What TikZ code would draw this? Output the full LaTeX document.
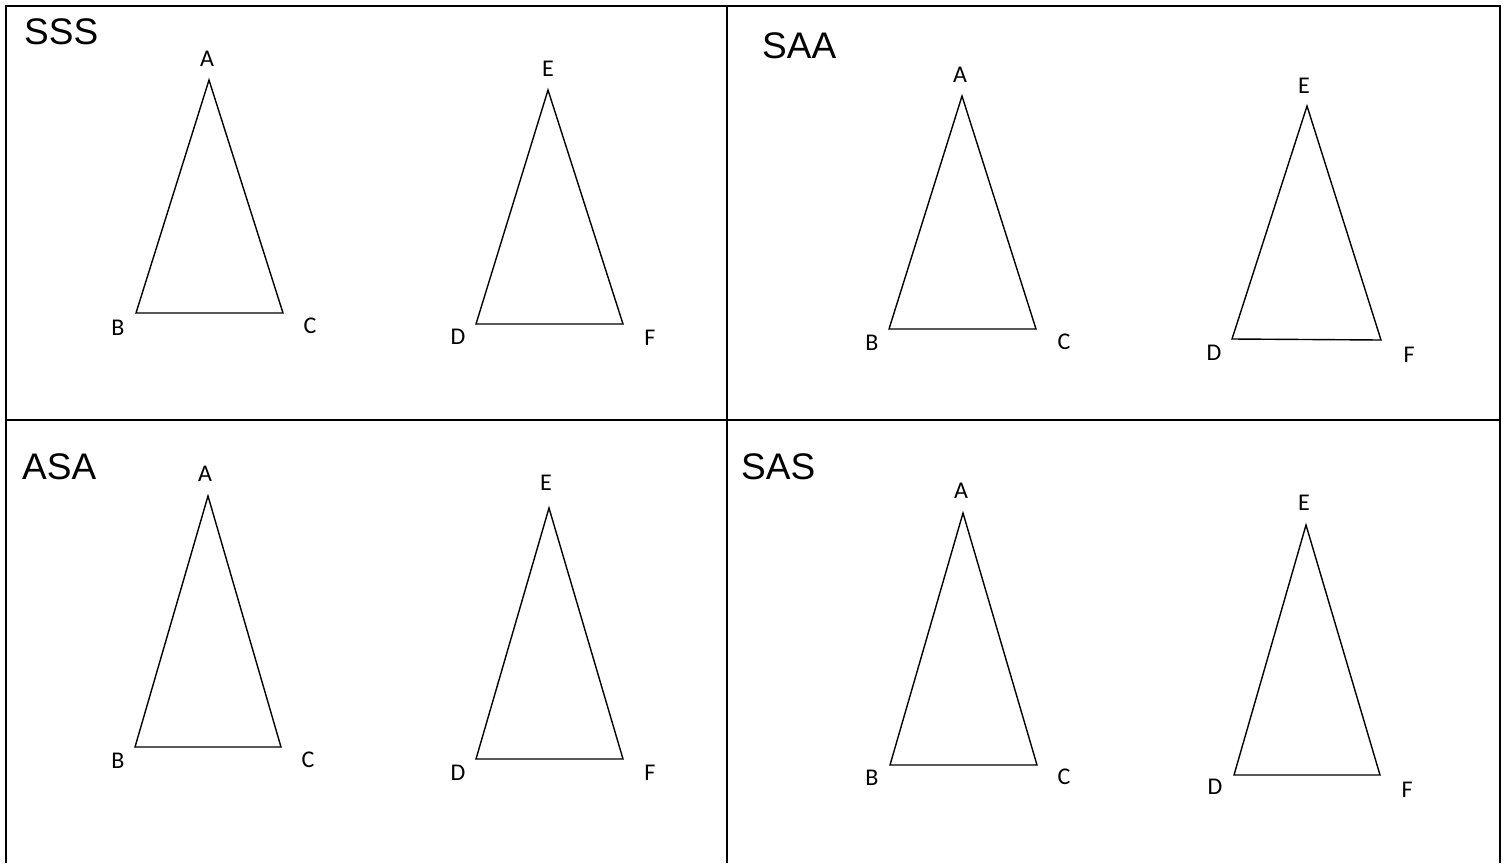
\documentclass[tikz,border=0pt]{standalone}
\usepackage{fontspec}
\setmainfont{Liberation Sans}
\newfontfamily\lblfont{Carlito}
\begin{document}
\begin{tikzpicture}[x=1pt,y=-1pt,
  tri/.style={line width=1.4pt,line join=miter},
  frame/.style={line width=2pt},
  title/.style={anchor=west,inner sep=0pt,font=\fontsize{37}{37}\selectfont},
  vlab/.style={inner sep=0pt,font=\lblfont\fontsize{24}{24}\selectfont}]
\useasboundingbox (0,0) rectangle (1507,863);
% frame
\coordinate (tl) at (6,6);
\coordinate (tr) at (1500,6);
\coordinate (bl) at (6,863);
\coordinate (br) at (1500,863);
\coordinate (ml) at (6,420);
\coordinate (mr) at (1500,420);
\coordinate (mt) at (727,6);
\coordinate (mb) at (727,863);
\draw[frame] (bl) -- (tl) -- (tr) -- (br);
\draw[frame] (ml) -- (mr);
\draw[frame] (mt) -- (mb);
% titles
\node[title] (t1) at (24,32) {SSS};
\node[title] (t2) at (762,46) {SAA};
\node[title] (t3) at (22,467) {ASA};
\node[title] (t4) at (741,467) {SAS};
% SSS
\coordinate (A1) at (209,80); \coordinate (B1) at (136,313); \coordinate (C1) at (283,313);
\draw[tri] (A1) -- (B1) -- (C1) -- cycle;
\node[vlab] (lA1) at (207,59) {A}; \node[vlab] (lB1) at (118,328) {B}; \node[vlab] (lC1) at (310,326) {C};
\coordinate (E1) at (548,90); \coordinate (D1) at (476,324); \coordinate (F1) at (623,324);
\draw[tri] (E1) -- (D1) -- (F1) -- cycle;
\node[vlab] (lE1) at (548,69) {E}; \node[vlab] (lD1) at (458,337) {D}; \node[vlab] (lF1) at (650,338) {F};
% SAA
\coordinate (A2) at (962,96); \coordinate (B2) at (889,329); \coordinate (C2) at (1036,329);
\draw[tri] (A2) -- (B2) -- (C2) -- cycle;
\node[vlab] (lA2) at (960,75) {A}; \node[vlab] (lB2) at (872,343) {B}; \node[vlab] (lC2) at (1064,342) {C};
\coordinate (E2) at (1307,106); \coordinate (D2) at (1232,339); \coordinate (F2) at (1381,340);
\draw[tri] (E2) -- (D2) -- (F2) -- cycle;
\node[vlab] (lE2) at (1304,86) {E}; \node[vlab] (lD2) at (1214,353) {D}; \node[vlab] (lF2) at (1409,355) {F};
% ASA
\coordinate (A3) at (208,496); \coordinate (B3) at (135,747); \coordinate (C3) at (281,747);
\draw[tri] (A3) -- (B3) -- (C3) -- cycle;
\node[vlab] (lA3) at (205,474) {A}; \node[vlab] (lB3) at (118,761) {B}; \node[vlab] (lC3) at (308,760) {C};
\coordinate (E3) at (549,508); \coordinate (D3) at (476,759); \coordinate (F3) at (623,759);
\draw[tri] (E3) -- (D3) -- (F3) -- cycle;
\node[vlab] (lE3) at (546,483) {E}; \node[vlab] (lD3) at (458,773) {D}; \node[vlab] (lF3) at (650,773) {F};
% SAS
\coordinate (A4) at (963,513); \coordinate (B4) at (890,765); \coordinate (C4) at (1037,765);
\draw[tri] (A4) -- (B4) -- (C4) -- cycle;
\node[vlab] (lA4) at (961,491) {A}; \node[vlab] (lB4) at (872,778) {B}; \node[vlab] (lC4) at (1064,777) {C};
\coordinate (E4) at (1306,525); \coordinate (D4) at (1234,775); \coordinate (F4) at (1380,775);
\draw[tri] (E4) -- (D4) -- (F4) -- cycle;
\node[vlab] (lE4) at (1304,503) {E}; \node[vlab] (lD4) at (1215,787) {D}; \node[vlab] (lF4) at (1407,790) {F};
\end{tikzpicture}
\end{document}
